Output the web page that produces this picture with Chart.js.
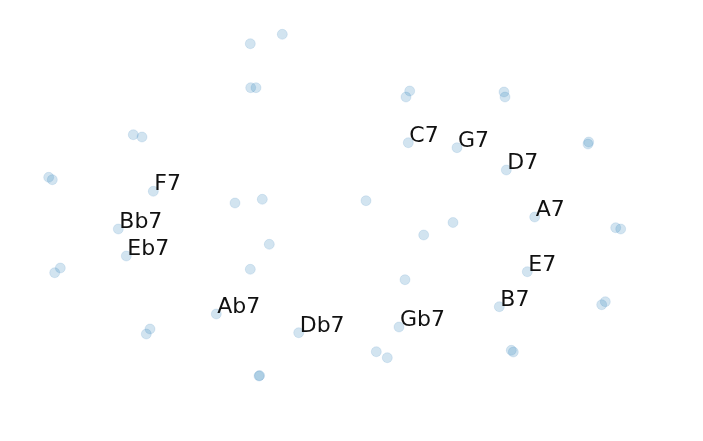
<!DOCTYPE html>
<html>
<head>
<meta charset="utf-8">
<style>
    html, body { margin: 0; padding: 0; background: #fff; }
    canvas { display: block; }
</style>
<script src="https://cdn.jsdelivr.net/npm/chart.js@4"></script>
</head>
<body>
<canvas id="myChart" width="703" height="441"></canvas>
<script>
const chords = ['C7', 'G7', 'D7', 'A7', 'E7', 'B7', 'Gb7', 'Db7', 'Ab7', 'Eb7', 'Bb7', 'F7'];
const chordX = [408.3, 457, 506.3, 534.7, 527.3, 499.3, 399, 298.7, 216.3, 126.3, 118.3, 153.3];
const chordY = [142.7, 147.7, 170, 217, 271.7, 306.7, 327, 332.7, 314, 256, 229, 191.3];

// the unlabelled chords
const otherX = [250.3, 282.3, 250.7, 256, 133.3, 142, 48.7, 52.3, 235, 262.3,
    409.7, 406, 504, 505, 588.7, 588, 366, 453,
    60.3, 54.7, 269.3, 250.3, 150, 146.3, 259, 259.6,
    423.7, 615.7, 620.7, 405, 605.3, 601.7, 376.3, 387.3, 511.3, 513.3];
const otherY = [43.7, 34.3, 87.7, 87.7, 134.7, 137, 177.3, 179.7, 203, 199.3,
    91, 97, 92, 97, 142, 144, 200.7, 222.5,
    268, 272.7, 244.3, 269.3, 329, 334, 376, 375.6,
    235, 227.7, 229, 279.7, 301.7, 304.7, 351.7, 357.7, 350.3, 352];

const toPoints = (xs, ys) => xs.map((x, i) => ({ x: x, y: ys[i] }));

const chordLabels = {
    id: 'chordLabels',
    afterDatasetsDraw(chart) {
        const { ctx, scales } = chart;
        ctx.save();
        ctx.font = '22px "DejaVu Sans"';
        ctx.fillStyle = '#111';
        ctx.textBaseline = 'alphabetic';
        chords.forEach((name, i) => {
            ctx.fillText(name, scales.x.getPixelForValue(chordX[i]) + 1, scales.y.getPixelForValue(chordY[i]) - 1);
        });
        ctx.restore();
    }
};

new Chart(document.getElementById('myChart'), {
    type: 'scatter',
    data: {
        datasets: [{
            data: toPoints(chordX.concat(otherX), chordY.concat(otherY)),
            backgroundColor: 'rgba(31,119,180,0.2)',
            borderColor: 'rgba(31,119,180,0.12)',
            borderWidth: 1,
            pointRadius: 5
        }]
    },
    options: {
        responsive: false,
        animation: false,
        layout: { padding: 0, autoPadding: false },
        plugins: { legend: { display: false }, tooltip: { enabled: false } },
        scales: {
            x: { display: false, min: 0, max: 703 },
            y: { display: false, min: 0, max: 441, reverse: true }
        }
    },
    plugins: [chordLabels]
});
</script>
</body>
</html>
